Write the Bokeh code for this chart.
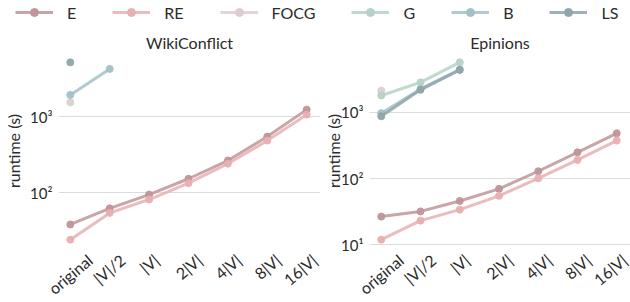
import math
from bokeh.plotting import figure
from bokeh.layouts import column, row
from bokeh.models import (ColumnDataSource, Range1d, FixedTicker,
                          Legend, LegendItem)
from bokeh.embed import file_html
from bokeh.resources import INLINE

nan = float("nan")

# ---------------- data ----------------
categories = ["original", "|V|/2", "|V|", "2|V|", "4|V|", "8|V|", "16|V|"]
series_names = ["E", "RE", "FOCG", "G", "B", "LS"]
colors = ["#c0959a", "#e7b0b1", "#ddcdd0", "#b5d2c6", "#a3c0c8", "#8ea6aa"]

wiki_E = [38, 62, 94, 152, 264, 546, 1236]
wiki_RE = [24, 54, 81, 133, 240, 483, 1062]
wiki_FOCG = [1540, nan, nan, nan, nan, nan, nan]
wiki_G = [nan, nan, nan, nan, nan, nan, nan]
wiki_B = [1930, 4250, nan, nan, nan, nan, nan]
wiki_LS = [5180, nan, nan, nan, nan, nan, nan]

epi_E = [26.7, 32, 46, 70, 129, 249, 482]
epi_RE = [12, 23.2, 34, 55, 101, 191, 374]
epi_FOCG = [2120, nan, nan, nan, nan, nan, nan]
epi_G = [1790, 2830, 5660, nan, nan, nan, nan]
epi_B = [970, 2250, 4400, nan, nan, nan, nan]
epi_LS = [870, 2180, 4360, nan, nan, nan, nan]

y_ticks = [10, 100, 1000]
y_tick_labels = {10: "10¹", 100: "10²", 1000: "10³"}

FONT = "Lato"
TXT = "#2b2b2b"

# approximate glyph widths (em) used to centre the rotated category labels
CHAR_W = {"o": .56, "r": .37, "i": .24, "g": .51, "n": .56, "a": .50, "l": .24,
          "|": .26, "V": .66, "/": .36, "1": .58, "2": .58, "4": .58, "6": .58, "8": .58}
XFS = 16
ANG = math.radians(40)
FRAME_H = 195
B_TOP, B_BOT = 27, 54


def text_w(s):
    return sum(CHAR_W.get(ch, .55) for ch in s) * XFS


def make_panel(title, values, data_w, extra_w, border_left, label_standoff):
    finite = [math.log10(v) for vals in values for v in vals if not math.isnan(v)]
    lo, hi = min(finite), max(finite)
    pad = 0.05 * (hi - lo)
    y0, y1 = 10 ** (lo - pad), 10 ** (hi + pad)
    n = len(categories)
    xs = list(range(n))
    xlo, xhi = -0.05 * (n - 1), (n - 1) * 1.05
    px_per_unit = data_w / (xhi - xlo)
    xhi_ext = xhi + extra_w / px_per_unit   # room on the right for the last label
    p = figure(frame_width=data_w + extra_w, frame_height=FRAME_H, y_axis_type="log",
               x_range=Range1d(xlo, xhi_ext), y_range=Range1d(y0, y1),
               output_backend="svg", toolbar_location=None,
               min_border_left=border_left, min_border_right=0,
               min_border_top=B_TOP, min_border_bottom=B_BOT,
               title=title)
    p.outline_line_color = None
    p.background_fill_color = "white"
    p.border_fill_color = "white"
    p.title.align = "center"
    p.title.offset = -extra_w / 2
    p.title.text_font = FONT
    p.title.text_font_size = "16px"
    p.title.text_font_style = "normal"
    p.title.text_color = TXT
    p.title.standoff = 4

    p.xgrid.visible = False
    p.ygrid.grid_line_color = "#dcdcdc"
    p.ygrid.grid_line_width = 1

    # x axis: rotated labels centred on each category (matplotlib-like)
    xticks = [min(i + text_w(s) / 2 * math.cos(ANG) / px_per_unit, xhi_ext - 1e-3)
              for i, s in zip(xs, categories)]
    xa = p.xaxis[0]
    xa.ticker = FixedTicker(ticks=xticks, minor_ticks=[])
    xa.major_label_overrides = {t: s for t, s in zip(xticks, categories)}
    xa.major_label_orientation = ANG
    xa.axis_line_color = None
    xa.major_tick_line_color = None
    xa.minor_tick_line_color = None
    xa.major_tick_out = 0
    xa.major_tick_in = 0
    xa.major_label_standoff = 9
    xa.major_label_text_font = FONT
    xa.major_label_text_font_size = f"{XFS}px"
    xa.major_label_text_color = TXT

    ax = p.yaxis[0]
    ax.ticker = FixedTicker(ticks=y_ticks, minor_ticks=[])
    ax.major_label_overrides = y_tick_labels
    ax.axis_line_color = None
    ax.major_tick_line_color = None
    ax.minor_tick_line_color = None
    ax.major_tick_out = 0
    ax.major_tick_in = 0
    ax.major_label_standoff = 6
    ax.major_label_text_font = FONT
    ax.major_label_text_font_size = "15px"
    ax.major_label_text_color = TXT
    ax.axis_label = "runtime (s)"
    ax.axis_label_text_font = FONT
    ax.axis_label_text_font_size = "16px"
    ax.axis_label_text_font_style = "normal"
    ax.axis_label_text_color = TXT
    ax.axis_label_standoff = label_standoff

    for vals, c in zip(values, colors):
        src = ColumnDataSource(dict(x=xs, y=vals))
        p.line("x", "y", source=src, line_color=c, line_width=3, line_alpha=0.85)
        p.scatter("x", "y", source=src, size=7, color=c, alpha=0.95)
    return p


p1 = make_panel("WikiConflict", [wiki_E, wiki_RE, wiki_FOCG, wiki_G, wiki_B, wiki_LS], 260, 2, 58, 4)
p2 = make_panel("Epinions", [epi_E, epi_RE, epi_FOCG, epi_G, epi_B, epi_LS], 259, 2, 49, -5)

# ---------------- legend strip ----------------
leg = figure(width=630, height=26, output_backend="svg", toolbar_location=None,
             x_axis_location=None, y_axis_location=None, min_border=0,
             outline_line_color=None, x_range=Range1d(0, 1), y_range=Range1d(0, 1))
leg.grid.visible = False
items = []
for name, c in zip(series_names, colors):
    dummy = ColumnDataSource(dict(x=[nan], y=[nan]))
    r1 = leg.line("x", "y", source=dummy, line_color=c, line_width=3, line_alpha=0.85)
    r2 = leg.scatter("x", "y", source=dummy, size=7, color=c)
    items.append(LegendItem(label=name, renderers=[r1, r2]))
legend = Legend(items=items, orientation="horizontal", location=(15, 4),
                glyph_width=38, glyph_height=20, label_height=20, label_width=0,
                label_standoff=14, spacing=36, padding=0, margin=0,
                border_line_color=None, background_fill_alpha=0,
                label_text_font=FONT, label_text_font_size="16px",
                label_text_color=TXT)
leg.add_layout(legend, "center")

layout = column(leg, row(p1, p2),
                styles={"position": "absolute", "top": "0px", "left": "0px",
                        "max-height": "302px", "overflow": "hidden"})

open("out.html", "w").write(file_html(layout, INLINE))
